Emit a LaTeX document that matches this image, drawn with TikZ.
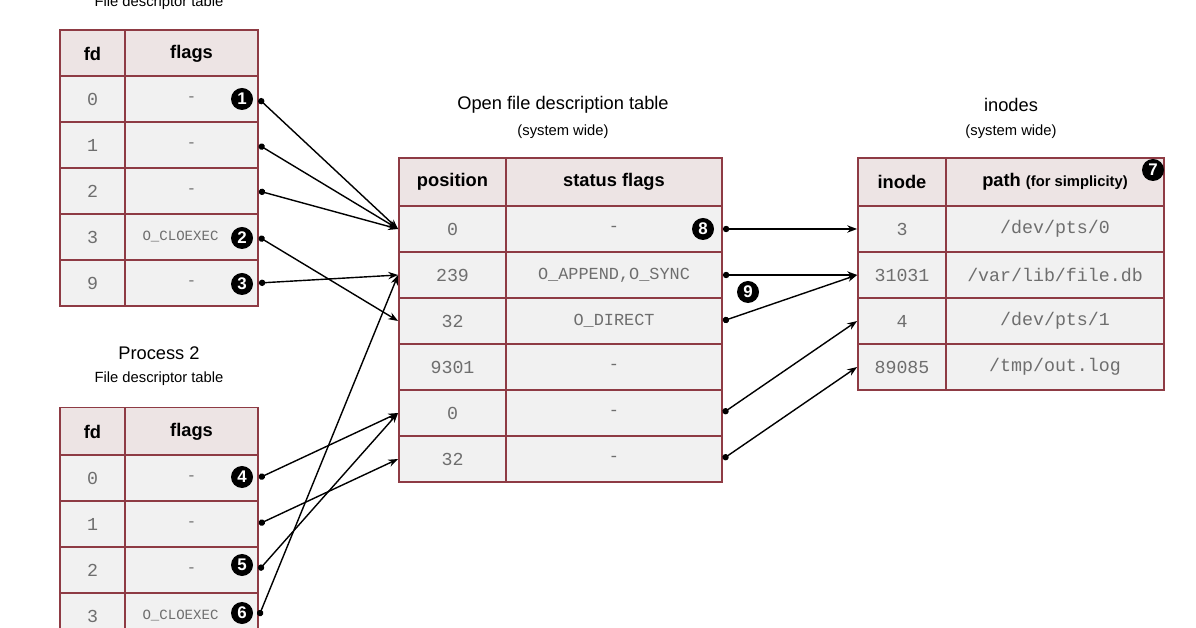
\documentclass[tikz,border=0pt]{standalone}
\usepackage{fontspec}
\setmainfont{Liberation Sans}
\setmonofont{Liberation Mono}
\usetikzlibrary{arrows.meta,positioning}
\definecolor{tabline}{HTML}{8E3B44}
\definecolor{headfill}{HTML}{EDE4E4}
\definecolor{cellfill}{HTML}{F1F1F1}
\definecolor{celltext}{HTML}{6E6E6E}
\tikzset{
  cell/.style = {draw=tabline, line width=1.3pt, fill=cellfill, inner sep=0pt,
    minimum height=1.15cm, text=celltext, font=\ttfamily\fontsize{13}{13}\selectfont},
  head/.style = {cell, fill=headfill, minimum height=1.2cm, text=black,
    font=\bfseries\fontsize{13}{13}\selectfont},
  title/.style = {font=\fontsize{13}{13}\selectfont, align=center},
  sub/.style = {font=\fontsize{10.5}{10.5}\selectfont},
  num/.style = {circle, fill=black, text=white, inner sep=0pt, minimum size=0.55cm,
    font=\bfseries\fontsize{12}{12}\selectfont},
  ptr/.style = {{Circle[length=4.5pt]}-{Stealth[length=7pt]}, line width=1pt}
}
\newcommand{\cloexec}{\hspace*{-0.55cm}\fontsize{10}{10}\selectfont O\_CLOEXEC}
\begin{document}
\begin{tikzpicture}[x=0.025cm,y=-0.025cm]
\useasboundingbox (0,0) rectangle (1196,628);

% process 1
\node [sub] (t1) at (159,3) {File descriptor table};
\node [head, minimum width=1.625cm] (p1hfd) at (92.5,54) {fd};
\node [head, minimum width=3.325cm] (p1hfl) at (191.5,54) {flags};
\foreach \i/\fd/\fl in {0/0/-,1/1/-,2/2/-,3/3/\cloexec,4/9/-}{
  \node [cell, minimum width=1.625cm] (p1fd\i) at (92.5,99+46*\i) {\fd};
  \node [cell, minimum width=3.325cm, font=\ttfamily\fontsize{11}{11}\selectfont] (p1fl\i) at (191.5,99+46*\i) {\fl};
}

% process 2
\node [title] (t2) at (159,353) {Process 2};
\node [sub] (t2b) at (159,379) {File descriptor table};
\node [head, minimum width=1.625cm] (p2hfd) at (92.5,431.5) {fd};
\node [head, minimum width=3.325cm] (p2hfl) at (191.5,431.5) {flags};
\foreach \i/\fd/\fl in {0/0/-,1/1/-,2/2/-,3/3/\cloexec}{
  \node [cell, minimum width=1.625cm] (p2fd\i) at (92.5,478+46*\i) {\fd};
  \node [cell, minimum width=3.325cm, font=\ttfamily\fontsize{11}{11}\selectfont] (p2fl\i) at (191.5,478+46*\i) {\fl};
}

% open file description table
\node [title] (t3) at (563,105) {Open file description table};
\node [sub] (t3b) at (563,132) {(system wide)};
\node [head, minimum width=2.675cm] (ohpos) at (452.5,182) {position};
\node [head, minimum width=5.4cm] (ohst) at (614,182) {status flags};
\foreach \i/\p/\s in {0/0/-,1/239/{O\_APPEND,O\_SYNC},2/32/O\_DIRECT,3/9301/-,4/0/-,5/32/-}{
  \node [cell, minimum width=2.675cm] (opos\i) at (452.5,229+46*\i) {\p};
  \node [cell, minimum width=5.4cm, font=\ttfamily\fontsize{12}{12}\selectfont] (ost\i) at (614,229+46*\i) {\s};
}

% inodes
\node [title] (t4) at (1011,105) {inodes};
\node [sub] (t4b) at (1011,132) {(system wide)};
\node [head, minimum width=2.2cm] (ihino) at (902,182) {inode};
\node [head, minimum width=5.45cm] (ihpath) at (1055,182) {path {\fontsize{10.5}{10.5}\selectfont(for simplicity)}};
\foreach \i/\n/\q in {0/3/{/dev/pts/0},1/31031/{/var/lib/file.db},2/4/{/dev/pts/1},3/89085/{/tmp/out.log}}{
  \node [cell, minimum width=2.2cm] (iino\i) at (902,229+46*\i) {\n};
  \node [cell, minimum width=5.45cm] (ipath\i) at (1055,229+46*\i) {\q};
}

% numbers
\node [num] (n1) at (242,99) {1};
\node [num] (n2) at (242,238) {2};
\node [num] (n3) at (242,284) {3};
\node [num] (n4) at (242,477) {4};
\node [num] (n5) at (242,565) {5};
\node [num] (n6) at (242,613) {6};
\node [num] (n7) at (1153,170) {7};
\node [num] (n8) at (703,229) {8};
\node [num] (n9) at (748,292) {9};

% pointers
\draw [ptr] (p1fl0.east) -- (opos0.west);
\draw [ptr] (p1fl1.east) -- (opos0.west);
\draw [ptr] (p1fl2.east) -- (opos0.west);
\draw [ptr] (p1fl3.east) -- (opos2.west);
\draw [ptr] (p1fl4.east) -- (opos1.west);
\draw [ptr] (p2fl0.east) -- (opos4.west);
\draw [ptr] (p2fl1.east) -- (opos5.west);
\draw [ptr] (p2fl2.east) -- (opos4.west);
\draw [ptr] (p2fl3.east) -- (opos1.west);
\draw [ptr] (ost0.east) -- (iino0.west);
\draw [ptr] (ost1.east) -- (iino1.west);
\draw [ptr] (ost2.east) -- (iino1.west);
\draw [ptr] (ost4.east) -- (iino2.west);
\draw [ptr] (ost5.east) -- (iino3.west);
\end{tikzpicture}
\end{document}
